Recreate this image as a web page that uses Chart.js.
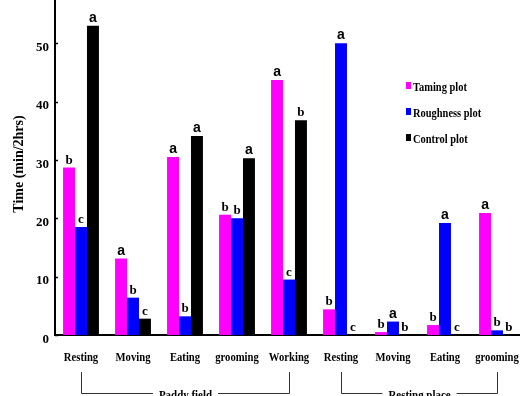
<!DOCTYPE html>
<html>
<head>
<meta charset="utf-8">
<style>
  html, body { margin: 0; padding: 0; background: #fff; overflow: hidden; width: 520px; height: 396px; }
  #wrap { width: 523px; height: 396px; }
</style>
<script src="https://cdn.jsdelivr.net/npm/chart.js@4/dist/chart.umd.min.js"></script>
</head>
<body>
<div id="wrap"><canvas id="c" width="523" height="396"></canvas></div>
<script>
// Activity categories, two locations
const categories = ['Resting', 'Moving', 'Eating', 'grooming', 'Working', 'Resting', 'Moving', 'Eating', 'grooming'];
const groupNames = ['Paddy field', 'Resting place'];
const groupSpans = [[0, 4], [5, 8]];

// Treatments
const seriesNames = ['Taming plot', 'Roughness plot', 'Control plot'];
const seriesColors = ['#ff00ff', '#0000ff', '#000000'];

// Time spent (min/2hrs)
const taming    = [28.7, 13.1, 30.5, 20.6, 43.7, 4.4, 0.5, 1.7, 20.9];
const roughness = [18.5, 6.4, 3.2, 20.0, 9.5, 50.0, 2.3, 19.2, 0.8];
const control   = [53.0, 2.8, 34.1, 30.3, 36.8, 0, 0, 0, 0];

// Significance letters
const tamingLetters    = ['b', 'a', 'a', 'b', 'a', 'b', 'b', 'b', 'a'];
const roughnessLetters = ['c', 'b', 'b', 'b', 'c', 'a', 'a', 'a', 'b'];
const controlLetters   = ['a', 'c', 'a', 'a', 'b', 'c', 'b', 'c', 'b'];

const yTicks = [0, 10, 20, 30, 40, 50];
const yTitle = 'Time (min/2hrs)';

const seriesValues = [taming, roughness, control];
const seriesLetters = [tamingLetters, roughnessLetters, controlLetters];

const SERIF = '"Liberation Serif", "Times New Roman", serif';
const SANS = '"Liberation Sans", Arial, sans-serif';

function squeezed(ctx, text, x, y, sx) {
  ctx.save();
  ctx.translate(x, y);
  ctx.scale(sx, 1);
  ctx.fillText(text, 0, 0);
  ctx.restore();
}

const decorations = {
  id: 'decorations',
  afterDraw(chart) {
    const ctx = chart.ctx;
    const xs = chart.scales.x;
    const ys = chart.scales.y;
    const area = chart.chartArea;
    ctx.save();
    ctx.fillStyle = '#000';
    ctx.strokeStyle = '#000';

    // inward tick marks on the value axis
    ctx.lineWidth = 1.5;
    yTicks.forEach(v => {
      const y = Math.round(ys.getPixelForValue(v)) + 0.5;
      ctx.beginPath();
      ctx.moveTo(area.left, y);
      ctx.lineTo(area.left + 3, y);
      ctx.stroke();
    });

    // value axis title
    ctx.save();
    ctx.translate(19, 164);
    ctx.rotate(-Math.PI / 2);
    ctx.font = 'bold 14px ' + SERIF;
    ctx.textAlign = 'center';
    ctx.textBaseline = 'middle';
    ctx.fillText(yTitle, 0, 0);
    ctx.restore();

    // category labels
    ctx.font = 'bold 13px ' + SERIF;
    ctx.textAlign = 'center';
    ctx.textBaseline = 'alphabetic';
    categories.forEach((c, i) => {
      squeezed(ctx, c, xs.getPixelForValue(i), 361, 0.82);
    });

    // location brackets
    ctx.strokeStyle = '#333';
    ctx.lineWidth = 1;
    groupSpans.forEach((span, g) => {
      const x0 = Math.round(xs.getPixelForValue(span[0])) + 0.5;
      const x1 = Math.round(xs.getPixelForValue(span[1])) + 0.5;
      const yb = 393.5;
      const mid = (x0 + x1) / 2;
      ctx.font = 'bold 13px ' + SERIF;
      const w = ctx.measureText(groupNames[g]).width * 0.84;
      ctx.beginPath();
      ctx.moveTo(x0, 372);
      ctx.lineTo(x0, yb);
      ctx.lineTo(mid - w / 2 - 6, yb);
      ctx.moveTo(mid + w / 2 + 6, yb);
      ctx.lineTo(x1, yb);
      ctx.lineTo(x1, 372);
      ctx.stroke();
      squeezed(ctx, groupNames[g], mid, 399, 0.84);
    });

    // significance letters above bars
    ctx.textAlign = 'center';
    ctx.textBaseline = 'alphabetic';
    seriesLetters.forEach((letters, d) => {
      const meta = chart.getDatasetMeta(d);
      letters.forEach((l, i) => {
        const bar = meta.data[i];
        ctx.font = l === 'a' ? 'bold 14px ' + SANS : 'bold 13px ' + SERIF;
        ctx.fillText(l, bar.x, bar.y - 4);
      });
    });

    // legend
    ctx.textAlign = 'left';
    ctx.font = 'bold 12px ' + SERIF;
    const baselines = [91, 117, 143];
    seriesNames.forEach((n, i) => {
      ctx.fillStyle = seriesColors[i];
      ctx.fillRect(406, baselines[i] - 9, 5, 7);
      ctx.fillStyle = '#000';
      squeezed(ctx, n, 413, baselines[i], 0.87);
    });

    ctx.restore();
  }
};

new Chart(document.getElementById('c'), {
  type: 'bar',
  data: {
    labels: categories,
    datasets: seriesNames.map((n, i) => ({
      label: n,
      data: seriesValues[i],
      backgroundColor: seriesColors[i],
      borderWidth: 0,
      barPercentage: 1,
      categoryPercentage: 0.69
    }))
  },
  options: {
    responsive: false,
    devicePixelRatio: 1,
    animation: false,
    layout: { padding: 0 },
    plugins: { legend: { display: false }, tooltip: { enabled: false } },
    scales: {
      x: {
        grid: { display: false, drawTicks: false },
        border: { color: '#000', width: 2 },
        ticks: { display: false },
        afterFit(s) { s.height = 61; s.paddingLeft = 0; s.paddingRight = 0; }
      },
      y: {
        min: 0,
        max: 57.4,
        grid: { display: false, drawTicks: false },
        border: { color: '#000', width: 2 },
        ticks: {
          color: '#000',
          font: { family: SERIF, size: 13, weight: 'bold' },
          padding: 6,
          labelOffset: 4.5
        },
        afterBuildTicks(s) { s.ticks = yTicks.map(v => ({ value: v })); },
        afterFit(s) { s.width = 55; s.paddingTop = 0; s.paddingBottom = 0; }
      }
    }
  },
  plugins: [decorations]
});
</script>
</body>
</html>
